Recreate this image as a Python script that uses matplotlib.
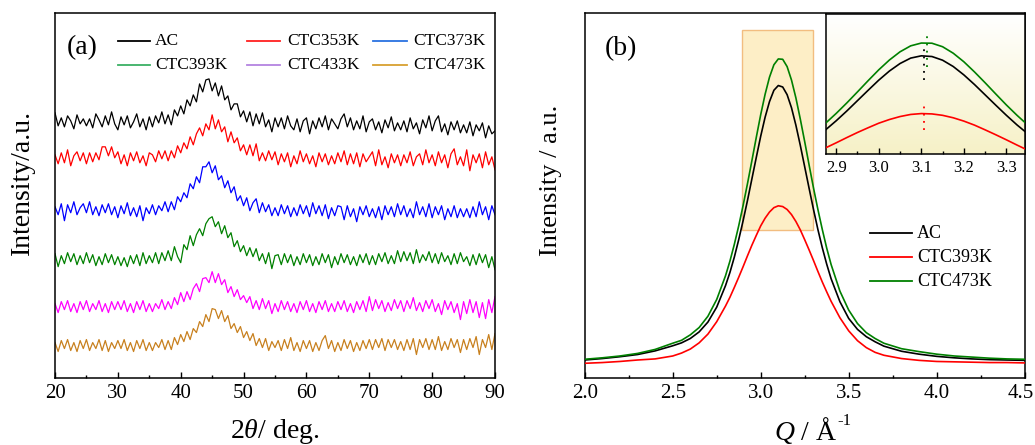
import numpy as np
import matplotlib
matplotlib.use("Agg")
import matplotlib.pyplot as plt
from matplotlib.lines import Line2D
from matplotlib.patches import Rectangle
from matplotlib.ticker import MultipleLocator, FormatStrFormatter, FuncFormatter

plt.rcParams['font.family'] = ['Liberation Serif', 'DejaVu Serif']
plt.rcParams['mathtext.fontset'] = 'custom'
plt.rcParams['mathtext.rm'] = 'Liberation Serif'
plt.rcParams['mathtext.it'] = 'Liberation Serif:italic'

# ---------------- (a) XRD patterns, stacked (20-90 deg, 0.5 deg step) ----------------
two_theta = np.linspace(20, 90, 141)

xrd_ac = [265,252,260,251,262,257,249,263,254,259,252,
          259,250,264,258,251,262,253,266,254,248,
          261,253,262,250,256,264,251,259,248,261,
          251,262,255,266,254,263,253,268,262,272,
          264,278,272,283,276,294,286,298,299,287,
          295,282,292,278,282,268,274,274,261,267,
          256,266,252,264,254,265,251,258,246,260,
          251,260,249,262,252,248,259,246,257,260,
          244,257,249,260,251,262,248,259,254,249,
          259,264,251,260,248,257,249,262,246,256,
          259,248,256,245,258,250,261,247,255,248,
          257,246,260,249,255,244,258,250,262,247,
          257,262,246,254,243,256,248,257,245,253,
          245,256,242,253,247,255,240,252,244,247]
xrd_353 = [223,214,225,215,228,212,222,226,217,225,214,
           225,216,225,218,231,231,222,231,220,226,
           214,223,212,225,217,226,215,222,212,225,
           223,216,227,219,227,217,227,220,232,225,
           235,229,241,233,244,250,242,254,248,263,
           249,258,246,251,236,246,235,240,227,233,
           223,233,222,234,217,225,217,227,218,226,
           213,224,216,225,211,222,214,227,216,224,
           214,222,211,225,216,224,213,222,214,225,
           216,227,213,224,214,225,211,224,216,221,
           226,212,228,213,221,210,224,215,223,212,
           223,215,226,212,221,224,213,228,215,223,
           212,226,215,223,210,224,229,213,221,212,
           228,207,223,215,224,210,226,213,221,208]
xrd_373 = [171,163,174,157,173,165,176,163,170,174,165,
           176,163,171,162,173,165,174,163,171,160,
           172,164,175,162,170,161,172,157,170,164,
           173,163,172,167,176,166,176,168,181,176,
           185,180,194,189,201,195,211,211,216,205,
           212,198,202,190,197,185,191,177,182,172,
           180,167,175,179,165,175,166,173,162,170,
           162,173,164,172,161,170,162,173,164,172,
           161,175,164,172,162,173,159,170,162,172,
           171,158,172,161,169,156,171,163,172,161,
           169,160,171,158,172,163,171,161,174,163,
           172,161,169,160,176,163,171,161,174,160,
           171,163,172,158,169,161,172,160,169,161,
           169,160,171,161,176,163,171,158,172,163]
xrd_393 = [124,111,122,114,125,116,124,113,122,114,125,
           115,123,112,121,113,124,115,123,113,121,
           112,120,111,122,114,123,112,125,114,122,
           115,125,114,125,117,127,117,131,121,115,
           133,128,142,132,143,149,142,154,159,161,
           151,156,144,152,140,145,131,137,126,132,
           122,130,121,129,117,124,114,125,109,122,
           123,113,124,115,123,112,121,113,124,115,
           123,112,121,113,124,115,123,110,121,113,
           124,115,123,113,121,112,123,115,124,113,
           122,113,124,116,125,114,122,114,127,116,
           126,117,125,114,128,115,123,117,126,115,
           124,114,125,116,122,113,124,114,125,116,
           121,112,123,113,124,115,123,110,121,108]
xrd_433 = [74,65,76,68,77,66,74,65,76,68,77,
           66,74,68,77,66,74,65,76,68,76,
           68,77,66,74,65,76,68,77,66,74,
           66,74,69,78,68,76,69,80,73,85,
           76,86,78,89,94,86,99,100,95,106,
           95,104,93,98,85,91,81,88,78,82,
           75,81,69,77,68,79,69,77,64,74,
           66,77,68,76,66,74,65,76,68,77,
           66,74,65,76,68,77,66,74,66,76,
           68,77,66,74,65,76,68,77,66,81,
           67,78,69,77,66,75,67,78,69,77,
           66,77,69,80,67,75,66,77,69,78,
           66,74,63,77,68,76,65,74,58,76,
           64,78,65,76,60,75,59,78,65,81]
xrd_473 = [35,26,37,29,38,27,35,26,37,29,38,
           27,35,29,38,27,37,26,35,29,37,
           29,38,27,35,26,37,29,38,27,35,
           27,35,30,38,28,37,28,40,33,43,
           36,46,38,49,45,56,51,63,56,69,
           68,59,67,56,62,49,54,45,51,40,
           46,37,44,32,39,30,39,27,36,30,
           37,27,38,29,40,27,35,26,37,29,
           37,26,35,27,37,42,29,37,26,35,
           27,38,29,37,26,35,27,37,29,38,
           28,38,30,39,27,38,30,38,28,36,
           27,38,28,39,23,38,30,39,28,38,
           28,41,27,36,28,39,30,38,25,38,
           28,39,30,41,23,38,30,43,28,44]

xrd_names = ['AC', 'CTC353K', 'CTC373K', 'CTC393K', 'CTC433K', 'CTC473K']
xrd_series = [xrd_ac, xrd_353, xrd_373, xrd_393, xrd_433, xrd_473]
trace_colors = ['#000000', '#ff0000', '#0000ff', '#008000', '#ff00ff', '#c8801e']
legend_colors = ['#000000', '#ff2020', '#2a72e0', '#3cb064', '#b484e0', '#d8a030']

# ---------------- (b) structure-factor peaks ----------------
q = [2.0, 2.1, 2.2, 2.3, 2.4, 2.5, 2.55, 2.6, 2.65, 2.7, 2.75, 2.8,
     2.825, 2.85, 2.875, 2.9, 2.925, 2.95, 2.975, 3.0, 3.025, 3.05, 3.075, 3.1,
     3.125, 3.15, 3.175, 3.2, 3.225, 3.25, 3.275, 3.3, 3.325, 3.35, 3.375, 3.4,
     3.45, 3.5, 3.55, 3.6, 3.65, 3.7, 3.8, 3.9, 4.0, 4.1, 4.2, 4.3, 4.4, 4.5]
sq_ac = [0.048, 0.052, 0.057, 0.063, 0.073, 0.087, 0.095, 0.107, 0.125, 0.152, 0.193, 0.252,
         0.288, 0.330, 0.378, 0.430, 0.486, 0.545, 0.604, 0.662, 0.714, 0.757, 0.788, 0.801,
         0.797, 0.776, 0.740, 0.692, 0.637, 0.578, 0.519, 0.461, 0.406, 0.356, 0.311, 0.271,
         0.208, 0.162, 0.132, 0.112, 0.098, 0.086, 0.072, 0.064, 0.058, 0.054, 0.051, 0.049, 0.048, 0.047]
sq_393 = [0.039, 0.041, 0.044, 0.048, 0.051, 0.059, 0.067, 0.078, 0.095, 0.119, 0.153, 0.196,
          0.220, 0.247, 0.275, 0.304, 0.334, 0.363, 0.390, 0.416, 0.437, 0.454, 0.466, 0.471,
          0.469, 0.461, 0.447, 0.428, 0.405, 0.378, 0.350, 0.321, 0.291, 0.262, 0.235, 0.209,
          0.164, 0.128, 0.101, 0.082, 0.069, 0.061, 0.052, 0.047, 0.044, 0.043, 0.042, 0.041, 0.041, 0.040]
sq_473 = [0.050, 0.054, 0.059, 0.066, 0.077, 0.094, 0.102, 0.117, 0.137, 0.168, 0.214, 0.279,
          0.319, 0.365, 0.416, 0.472, 0.532, 0.595, 0.659, 0.721, 0.777, 0.824, 0.858, 0.874,
          0.873, 0.853, 0.816, 0.767, 0.709, 0.647, 0.583, 0.520, 0.461, 0.406, 0.355, 0.310,
          0.237, 0.185, 0.148, 0.123, 0.107, 0.094, 0.079, 0.071, 0.064, 0.059, 0.056, 0.053, 0.051, 0.050]
sq_names = ['AC', 'CTC393K', 'CTC473K']
sq_series = [sq_ac, sq_393, sq_473]
sq_colors = ['#000000', '#ff0000', '#008000']
# peak positions marked in the inset, with the span of each marker
peak_q = [3.107, 3.107, 3.113]
peak_span = [(0.663, 0.851), (0.377, 0.520), (0.737, 0.931)]

W, H = 1035, 445
fig = plt.figure(figsize=(W / 100, H / 100), dpi=100)


def box(x0, y0, x1, y1):
    """Pixel box (top-left origin) to figure fraction [l, b, w, h]."""
    return [x0 / W, 1 - y1 / H, (x1 - x0) / W, (y1 - y0) / H]


def fx(x):
    return x / W


def fy(y):
    return 1 - y / H


def style_axes(ax, lw=1.1):
    for s in ax.spines.values():
        s.set_linewidth(lw)
    ax.tick_params(axis='x', which='both', direction='in', top=False,
                   labelsize=15, pad=5)
    ax.tick_params(axis='x', which='major', length=4, width=1.0)
    ax.tick_params(axis='x', which='minor', length=2.5, width=1.0)
    ax.tick_params(axis='y', left=False, labelleft=False)


# ---------------- panel (a) ----------------
axa = fig.add_axes(box(55, 13, 495, 377.5))
for vals, c in zip(xrd_series, trace_colors):
    axa.plot(two_theta, vals, color=c, lw=0.9)
axa.set_xlim(20, 90)
axa.set_ylim(0, 365)
axa.xaxis.set_major_locator(MultipleLocator(10))
axa.xaxis.set_minor_locator(MultipleLocator(5))
style_axes(axa)
fig.text(fx(275), fy(432), '2$\\it{θ}$/ deg.', ha='center', va='center', fontsize=20)
fig.text(fx(22), fy(182), 'Intensity/a.u.', ha='center', va='center',
         rotation=90, fontsize=20)
fig.text(fx(82), fy(48), '(a)', ha='center', va='center', fontsize=20)

# legend of panel (a): 2 rows x 3 columns
col_x = [(118, 150, 155), (247, 280, 287), (373, 407, 413)]
row_y = [41, 65]
for k, (name, c) in enumerate(zip(xrd_names, legend_colors)):
    r, cidx = divmod(k, 3)
    x0, x1, xt = col_x[cidx]
    yy = row_y[r]
    fig.add_artist(Line2D([fx(x0), fx(x1)], [fy(yy), fy(yy)], color=c, lw=1.3))
    fig.text(fx(xt), fy(yy), name, ha='left', va='center', fontsize=12.5)

# ---------------- panel (b) ----------------
q_min, q_max = 2.0, 4.5
axb = fig.add_axes(box(584.7, 13, 1024.7, 377.5))
axb.add_patch(Rectangle((2.896, 0.406), 3.295 - 2.896, 0.953 - 0.406,
                        facecolor='#fdeec6', edgecolor='#f2bd80', lw=1.0, zorder=1))
for vals, c in zip(sq_series, sq_colors):
    axb.plot(q, vals, color=c, lw=1.2, zorder=3)
axb.set_xlim(q_min, q_max)
axb.set_ylim(0, 1)
axb.xaxis.set_major_locator(MultipleLocator(0.5))
axb.xaxis.set_minor_locator(MultipleLocator(0.25))
# the last label sits at the figure edge; it is drawn separately, nudged inward
axb.xaxis.set_major_formatter(
    FuncFormatter(lambda v, p: '' if abs(v - q_max) < 1e-9 else f'{v:.1f}'))
style_axes(axb)
fig.text(fx(1034), fy(393), f'{q_max:.1f}', ha='right', va='center', fontsize=15)
fig.text(fx(806), fy(431), '$\\it{Q}$ / Å', ha='center', va='center', fontsize=20)
fig.text(fx(837), fy(421), '-1', ha='left', va='center', fontsize=12)
fig.text(fx(551), fy(180), 'Intensity / a.u.', ha='center', va='center',
         rotation=90, fontsize=19)
fig.text(fx(621), fy(49), '(b)', ha='center', va='center', fontsize=20)

leg_rows = [233, 257, 281]
for name, c, yy in zip(sq_names, sq_colors, leg_rows):
    fig.add_artist(Line2D([fx(870), fx(912)], [fy(yy), fy(yy)], color=c, lw=1.3))
    fig.text(fx(917), fy(yy), name, ha='left', va='center', fontsize=13)

# ---------------- inset: zoom on the peak top ----------------
axi = fig.add_axes(box(826, 14, 1024.7, 154))
x_lo, x_hi, y_lo, y_hi = 2.876, 3.343, 0.240, 1.040
grad = np.linspace(0, 1, 256).reshape(-1, 1)
top_c = np.array([1.0, 1.0, 1.0])
bot_c = np.array([0.965, 0.945, 0.78])
img = top_c + (bot_c - top_c) * grad[..., None] * np.ones((1, 1, 3))
axi.imshow(img, extent=[x_lo, x_hi, y_lo, y_hi], origin='upper', aspect='auto',
           zorder=0, interpolation='bilinear')
for vals, c in zip(sq_series, sq_colors):
    axi.plot(q, vals, color=c, lw=1.2, zorder=3)
for pq, (s0, s1), c in zip(peak_q, peak_span, sq_colors):
    axi.plot([pq, pq], [s0, s1], color=c, lw=1.3, ls=(0, (1, 3)), zorder=4)
axi.set_xlim(x_lo, x_hi)
axi.set_ylim(y_lo, y_hi)
axi.xaxis.set_major_locator(MultipleLocator(0.1))
axi.xaxis.set_minor_locator(MultipleLocator(0.05))
axi.xaxis.set_major_formatter(FormatStrFormatter('%.1f'))
for s in axi.spines.values():
    s.set_linewidth(1.1)
axi.tick_params(axis='x', which='both', direction='in', top=False, labelsize=12, pad=4)
axi.tick_params(axis='x', which='major', length=4, width=1.0)
axi.tick_params(axis='x', which='minor', length=2, width=1.0)
axi.tick_params(axis='y', left=False, labelleft=False)

fig.savefig('out.png', dpi=100)
